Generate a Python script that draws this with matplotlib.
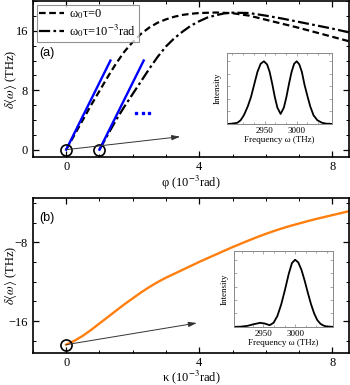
import numpy as np
import matplotlib
matplotlib.use("Agg")
import matplotlib.pyplot as plt
from matplotlib.ticker import MultipleLocator, NullFormatter

plt.rcParams["font.family"] = ["Liberation Serif", "DejaVu Serif"]
plt.rcParams["mathtext.fontset"] = "stix"

# --- panel (a): delta<omega> vs phi ---
phi_dash = [0, 0.25, 0.5, 0.75, 1.0, 1.25, 1.5, 1.75, 2.0, 2.25, 2.5, 2.75, 3.0, 3.25, 3.5,
            3.75, 4.0, 4.5, 5.0, 5.5, 6.0, 6.5, 7.0, 7.5, 8.0, 8.5]
d_dash = [0, 2.0, 4.0, 6.0, 7.9, 9.8, 11.6, 13.2, 14.5, 15.6, 16.45, 17.1, 17.55, 17.9, 18.15,
          18.3, 18.4, 18.47, 18.38, 18.05, 17.5, 16.95, 16.4, 15.8, 15.2, 14.6]
phi_dd = [1.0, 1.25, 1.5, 1.75, 2.0, 2.25, 2.5, 2.75, 3.0, 3.25, 3.5, 3.75, 4.0, 4.25, 4.5,
          4.75, 5.0, 5.5, 6.0, 6.5, 7.0, 7.5, 8.0, 8.5]
d_dd = [0, 2.0, 4.0, 5.8, 7.5, 9.2, 10.9, 12.5, 13.9, 15.0, 15.9, 16.7, 17.3, 17.8, 18.1,
        18.35, 18.45, 18.4, 18.05, 17.65, 17.2, 16.75, 16.3, 15.8]
blue_x = [[0, 1.33], [1.0, 2.33]]
blue_y = [[0, 12], [0, 12]]
dots_x = [2.1, 2.3, 2.5]
dots_y = [5.0, 5.0, 5.0]
circ_a_x = [0, 1.0]
circ_a_y = [0, 0]

# inset (a): two-peak spectrum
w_a = [2892, 2900, 2908, 2913, 2918, 2924, 2929, 2934, 2939, 2944, 2949, 2954, 2958, 2962,
       2966, 2970, 2975, 2980, 2984, 2988, 2992, 2996, 3000, 3004, 3008, 3012, 3017, 3021,
       3026, 3032, 3039, 3046, 3055]
i_a = [0, 0.005, 0.02, 0.06, 0.14, 0.28, 0.43, 0.63, 0.83, 0.96, 1.0, 0.95, 0.83, 0.64,
       0.43, 0.26, 0.16, 0.26, 0.43, 0.64, 0.83, 0.96, 1.0, 0.95, 0.83, 0.63, 0.43, 0.28,
       0.14, 0.06, 0.02, 0.005, 0]

# --- panel (b): delta<omega> vs kappa ---
kappa = [0, 0.25, 0.5, 0.75, 1.0, 1.25, 1.5, 1.75, 2.0, 2.25, 2.5, 2.75, 3.0, 3.25, 3.5,
         3.75, 4.0, 4.25, 4.5, 4.75, 5.0, 5.25, 5.5, 5.75, 6.0, 6.25, 6.5, 6.75, 7.0, 7.25,
         7.5, 7.75, 8.0, 8.25, 8.5]
d_kappa = [-18.4, -18.0, -17.5, -16.9, -16.25, -15.6, -14.95, -14.3, -13.7, -13.1, -12.55,
           -12.05, -11.6, -11.2, -10.8, -10.4, -10.0, -9.62, -9.25, -8.87, -8.5, -8.15, -7.8,
           -7.47, -7.15, -6.86, -6.58, -6.33, -6.1, -5.87, -5.65, -5.45, -5.25, -5.05, -4.85]

# inset (b): single peak spectrum
w_b = [2904, 2915, 2925, 2935, 2945, 2952, 2960, 2966, 2972, 2978, 2984, 2990, 2995, 3000,
       3005, 3010, 3015, 3020, 3025, 3030, 3035, 3040, 3045, 3050, 3060]
i_b = [0, 0.003, 0.015, 0.04, 0.06, 0.05, 0.025, 0.06, 0.16, 0.33, 0.55, 0.79, 0.95, 1.0,
       0.96, 0.85, 0.69, 0.51, 0.34, 0.2, 0.1, 0.045, 0.018, 0.006, 0]

fig = plt.figure(figsize=(3.5, 3.85), dpi=100)
ax1 = fig.add_axes([0.094, 0.592, 0.903, 0.405])
ax2 = fig.add_axes([0.094, 0.083, 0.903, 0.403])


def style_axes(ax):
    ax.tick_params(which="both", direction="in", top=True, right=True, labelsize=9)
    ax.tick_params(which="major", length=4, width=0.9)
    ax.tick_params(which="minor", length=2, width=0.7)
    ax.tick_params(axis="x", pad=2.5)
    for s in ax.spines.values():
        s.set_linewidth(1.2)


# panel (a)
ax1.plot(phi_dash, d_dash, color="black", lw=1.6, ls=(0, (3, 1.6)), label="ω$_0$τ=0")
ax1.plot(phi_dd, d_dd, color="black", lw=1.6, ls=(0, (5, 1.5, 1.2, 1.5)),
         label="ω$_0$τ=10$^{-3}$rad")
for bx, by in zip(blue_x, blue_y):
    ax1.plot(bx, by, color="#0000ff", lw=1.7)
ax1.plot(dots_x, dots_y, ls="none", marker="s", ms=1.8, color="#0000ff")
ax1.annotate("", xy=(3.43, 1.75), xytext=(0, 0),
             arrowprops=dict(arrowstyle="-|>,head_length=0.5,head_width=0.15", color="#333333",
                             lw=0.7, shrinkA=0, shrinkB=0))
ax1.plot(circ_a_x, circ_a_y, ls="none", marker="o", ms=8, mfc="none", mec="black", mew=1.2)
ax1.set_xlim(-1, 8.5)
ax1.set_ylim(-1, 20)
ax1.xaxis.set_major_locator(MultipleLocator(4))
ax1.xaxis.set_minor_locator(MultipleLocator(1))
ax1.yaxis.set_major_locator(MultipleLocator(8))
ax1.yaxis.set_minor_locator(MultipleLocator(2))
style_axes(ax1)
ax1.set_xlabel(r"φ (10$^{-3}$rad)", fontsize=9, va="top")
ax1.xaxis.set_label_coords(0.5, -0.105)
ax1.set_ylabel(r"$\delta\langle\omega\rangle$ (THz)", fontsize=9)
ax1.yaxis.set_label_coords(-0.045, 0.5)
ax1.text(-0.8, 13.0, "(a)", fontsize=9, family="Liberation Sans", va="center")
leg = ax1.legend(loc="upper left", fontsize=9, frameon=True, fancybox=False, edgecolor="#777777",
                 handlelength=2.0, handletextpad=0.4, borderpad=0.2, labelspacing=0.1,
                 borderaxespad=0.3)
leg.get_frame().set_linewidth(0.8)

# panel (b)
ax2.plot(kappa, d_kappa, color="#ff7f0e", lw=1.7)
ax2.annotate("", xy=(3.93, -16.2), xytext=(0, -18.4),
             arrowprops=dict(arrowstyle="-|>,head_length=0.5,head_width=0.15", color="#333333",
                             lw=0.7, shrinkA=0, shrinkB=0))
ax2.plot([kappa[0]], [d_kappa[0]], ls="none", marker="o", ms=8, mfc="none", mec="black", mew=1.2)
ax2.set_xlim(-1, 8.5)
ax2.set_ylim(-19.25, -3.5)
ax2.xaxis.set_major_locator(MultipleLocator(4))
ax2.xaxis.set_minor_locator(MultipleLocator(1))
ax2.yaxis.set_major_locator(MultipleLocator(8))
ax2.yaxis.set_minor_locator(MultipleLocator(2))
style_axes(ax2)
ax2.set_xlabel(r"κ (10$^{-3}$rad)", fontsize=9, va="top")
ax2.xaxis.set_label_coords(0.5, -0.1)
ax2.set_ylabel(r"$\delta\langle\omega\rangle$ (THz)", fontsize=9)
ax2.yaxis.set_label_coords(-0.045, 0.5)
ax2.text(-0.8, -5.5, "(b)", fontsize=9, family="Liberation Sans", va="center")


def make_inset(rect, w, inten, xlim):
    ins = fig.add_axes(rect)
    ins.plot(w, inten, color="black", lw=1.3)
    ins.set_xlim(*xlim)
    ins.set_ylim(0, 1.13)
    ins.set_xticks([2950, 3000])
    ins.xaxis.set_minor_locator(MultipleLocator(50 / 3))
    ins.yaxis.set_major_locator(MultipleLocator(0.2))
    ins.yaxis.set_major_formatter(NullFormatter())
    ins.tick_params(which="both", direction="in", top=True, right=True, labelsize=6.5,
                    color="#888888", pad=2)
    ins.tick_params(which="major", length=2.5, width=0.5)
    ins.tick_params(which="minor", length=1.5, width=0.5)
    for s in ins.spines.values():
        s.set_color("#888888")
        s.set_linewidth(0.7)
    ins.set_xlabel("Frequency ω (THz)", fontsize=6.5, labelpad=1)
    ins.set_ylabel("Intensity", fontsize=6.5, labelpad=2)
    return ins


make_inset([0.649, 0.678, 0.300, 0.184], w_a, i_a, (2892, 3055))
make_inset([0.669, 0.151, 0.283, 0.197], w_b, i_b, (2904, 3060))

fig.savefig("out.png", dpi=100)
